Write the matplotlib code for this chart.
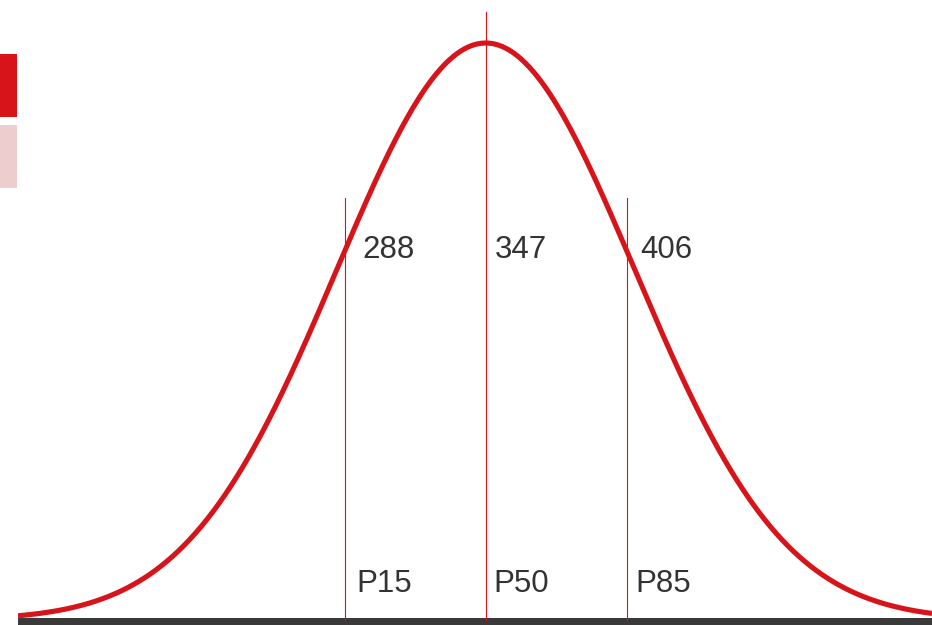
import numpy as np
import matplotlib
matplotlib.use("Agg")
import matplotlib.pyplot as plt
from matplotlib.patches import Rectangle
from matplotlib.transforms import offset_copy

# ---- data ----
percentile_labels = ["P15", "P50", "P85"]
percentile_values = [288, 347, 406]
dist_mean = 347
dist_sd = 62.5
x_min, x_max = 151.0, 534.0

RED = "#D7141A"
PINK = "#EDCDCE"
TEXT = "#333333"
BASE = "#3A3A3A"

plt.rcParams["font.family"] = ["Liberation Sans", "DejaVu Sans"]

W, H = 932, 625
fig = plt.figure(figsize=(W / 100, H / 100), dpi=100)
fig.patch.set_facecolor("white")

# axes: from x=18px to right edge, full height
ax = fig.add_axes([18 / W, 0, 1 - 18 / W, 1])
peak_px = 577.0
ymin = -5 / peak_px
ymax = 620 / peak_px
ax.set_xlim(x_min, x_max)
ax.set_ylim(ymin, ymax)
ax.axis("off")

xs = np.linspace(x_min, x_max, 800)
ys = np.exp(-0.5 * ((xs - dist_mean) / dist_sd) ** 2)

# baseline bar
ax.axhspan(ymin, 2 / peak_px, color=BASE, lw=0, zorder=1)

ax.plot(xs, ys, color=RED, lw=3.7, solid_capstyle="butt", zorder=3)

line_tops = [(620 - 198) / peak_px, (620 - 12) / peak_px, (620 - 198) / peak_px]
num_dx = [17, 9, 14]
lab_dx = [11, 8, 9]
num_y = (620 - 250) / peak_px
lab_y = (620 - 584) / peak_px
for lab, val, top, dx, ldx in zip(percentile_labels, percentile_values, line_tops, num_dx, lab_dx):
    ax.plot([val, val], [0, top], color=RED, lw=0.8, zorder=2)
    tr = offset_copy(ax.transData, fig=fig, x=dx * 72 / 100, y=0, units="points")
    ax.text(val, num_y, str(val), transform=tr, ha="left", va="center",
            fontsize=22.5, color=TEXT, zorder=4)
    tr2 = offset_copy(ax.transData, fig=fig, x=ldx * 72 / 100, y=0, units="points")
    ax.text(val, lab_y, lab, transform=tr2, ha="left", va="center",
            fontsize=22.5, color=TEXT, zorder=4)

# legend swatches at top-left
fig.patches.append(Rectangle((0, 1 - 117 / H), 17 / W, 63 / H, transform=fig.transFigure,
                             facecolor=RED, edgecolor="none"))
fig.patches.append(Rectangle((0, 1 - 188 / H), 17 / W, 63 / H, transform=fig.transFigure,
                             facecolor=PINK, edgecolor="none"))

fig.savefig("out.png", dpi=100, facecolor="white")
